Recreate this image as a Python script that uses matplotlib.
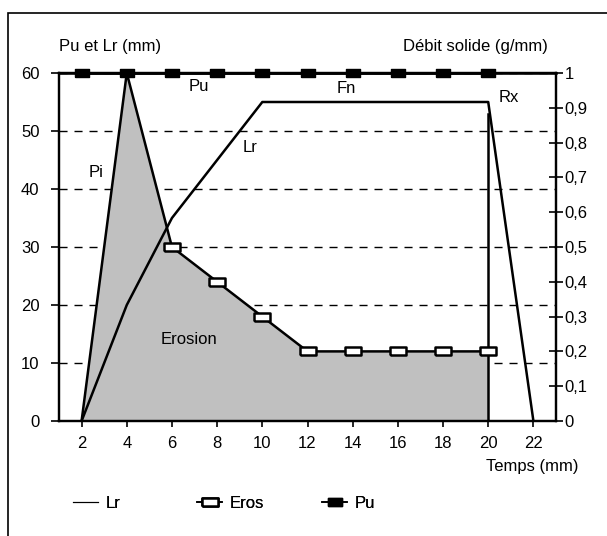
import matplotlib
matplotlib.use("Agg")
import matplotlib.pyplot as plt
from matplotlib.lines import Line2D
from matplotlib.patches import Rectangle

plt.rcParams["font.family"] = ["Liberation Sans", "DejaVu Sans"]
plt.rcParams["font.size"] = 12

# time axis (mm)
temps = [2, 4, 6, 8, 10, 12, 14, 16, 18, 20, 22]

# Lr (mm), left axis
lr = [0, 20, 35, 45, 55, 55, 55, 55, 55, 55, 0]

# Pu (mm), left axis
pu_x = [2, 4, 6, 8, 10, 12, 14, 16, 18, 20]
pu = [60, 60, 60, 60, 60, 60, 60, 60, 60, 60]

# Pi (mm), left axis
pi_x = [2, 4, 6]
pi = [0, 60, 30]

# Eros (g/mm), right axis
eros_x = [6, 8, 10, 12, 14, 16, 18, 20]
eros = [0.5, 0.4, 0.3, 0.2, 0.2, 0.2, 0.2, 0.2]

# Rx drop at end of erosion
rx_x = [20, 20]
rx = [53, 0]

x_ticks = [2, 4, 6, 8, 10, 12, 14, 16, 18, 20, 22]
left_ticks = [0, 10, 20, 30, 40, 50, 60]
right_ticks = [0, 0.1, 0.2, 0.3, 0.4, 0.5, 0.6, 0.7, 0.8, 0.9, 1]
right_labels = ["0", "0,1", "0,2", "0,3", "0,4", "0,5", "0,6", "0,7", "0,8", "0,9", "1"]

rect_marker = [(-1, -0.55), (1, -0.55), (1, 0.55), (-1, 0.55), (-1, -0.55)]

fig = plt.figure(figsize=(6.07, 5.36), dpi=100)
ax = fig.add_axes([59 / 607, 1 - 421 / 536, (556 - 59) / 607, (421 - 73) / 536])
ax2 = ax.twinx()

ax.set_xlim(1, 23)
ax.set_ylim(0, 60)
ax2.set_ylim(0, 1)

# dashed horizontal grid (under the fill)
ax.set_axisbelow(True)
ax.grid(axis="y", color="black", linestyle=(0, (5.8, 5)), linewidth=1)

# erosion area: Pi then Eros converted to left-axis units
k = ax.get_ylim()[1] / ax2.get_ylim()[1]
fill_x = pi_x + eros_x[1:] + [eros_x[-1]]
fill_y = pi + [e * k for e in eros[1:]] + [0]
ax.fill(fill_x, fill_y, color="#c0c0c0", zorder=1, linewidth=0)

ax.plot(pi_x, pi, color="black", lw=1.8, zorder=3)
ax.plot(temps, lr, color="black", lw=1.8, zorder=3)
ax.plot(rx_x, rx, color="black", lw=1.8, zorder=3)
ax.plot(pu_x, pu, color="black", lw=1.8, marker=rect_marker, markersize=10,
        markerfacecolor="black", markeredgecolor="black", zorder=4, clip_on=False)
ax.plot([1, 23], [60, 60], color="black", lw=1.8, zorder=3, clip_on=False)

ax2.plot(eros_x, eros, color="black", lw=1.8, marker=rect_marker, markersize=11,
         markerfacecolor="white", markeredgecolor="black", markeredgewidth=1.8,
         zorder=5)

for s in ax.spines.values():
    s.set_linewidth(1.6)
for s in ax2.spines.values():
    s.set_linewidth(1.6)

ax.set_xticks(x_ticks)
ax.set_yticks(left_ticks)
ax2.set_yticks(right_ticks)
ax2.set_yticklabels(right_labels)
ax.tick_params(axis="x", direction="out", length=4, width=1.2, pad=7)
ax.tick_params(axis="y", direction="out", length=6, width=1.2, pad=8)
ax2.tick_params(axis="y", direction="inout", length=10, width=1.2, pad=1)

ax.text(7.2, 57.6, "Pu", ha="center", va="center")
ax.text(13.7, 57.4, "Fn", ha="center", va="center")
ax.text(20.9, 55.7, "Rx", ha="center", va="center")
ax.text(9.45, 47.2, "Lr", ha="center", va="center")
ax.text(2.66, 42.8, "Pi", ha="center", va="center")
ax.text(6.74, 14.0, "Erosion", ha="center", va="center")

fig.text(110 / 607, 1 - 47 / 536, "Pu et Lr (mm)", ha="center", va="center")
fig.text(475 / 607, 1 - 47 / 536, "Débit solide (g/mm)", ha="center", va="center")
fig.text(578 / 607, 1 - 466 / 536, "Temps (mm)", ha="right", va="center")

legend_items = [
    (Line2D([], [], color="black", lw=0.8), "Lr", 73),
    (Line2D([], [], color="black", lw=1.2, marker=rect_marker, markersize=11,
            markerfacecolor="white", markeredgecolor="black", markeredgewidth=1.8),
     "Eros", 197),
    (Line2D([], [], color="black", lw=1.2, marker=rect_marker, markersize=10,
            markerfacecolor="black", markeredgecolor="black"), "Pu", 322),
]
for handle, label, xpix in legend_items:
    leg = fig.legend([handle], [label], frameon=False, loc="center left",
                     bbox_to_anchor=(xpix / 607, 1 - 503 / 536),
                     handlelength=1.5, handletextpad=0.45,
                     borderaxespad=0, borderpad=0)
    fig.add_artist(leg)

# outer frame (cut by right and bottom image edges)
fig.patches.append(Rectangle((8 / 607, -0.05), 1.1, 1 - 13 / 536 + 0.05,
                             transform=fig.transFigure, fill=False,
                             edgecolor="black", linewidth=1.2))

fig.savefig("out.png", dpi=100)
